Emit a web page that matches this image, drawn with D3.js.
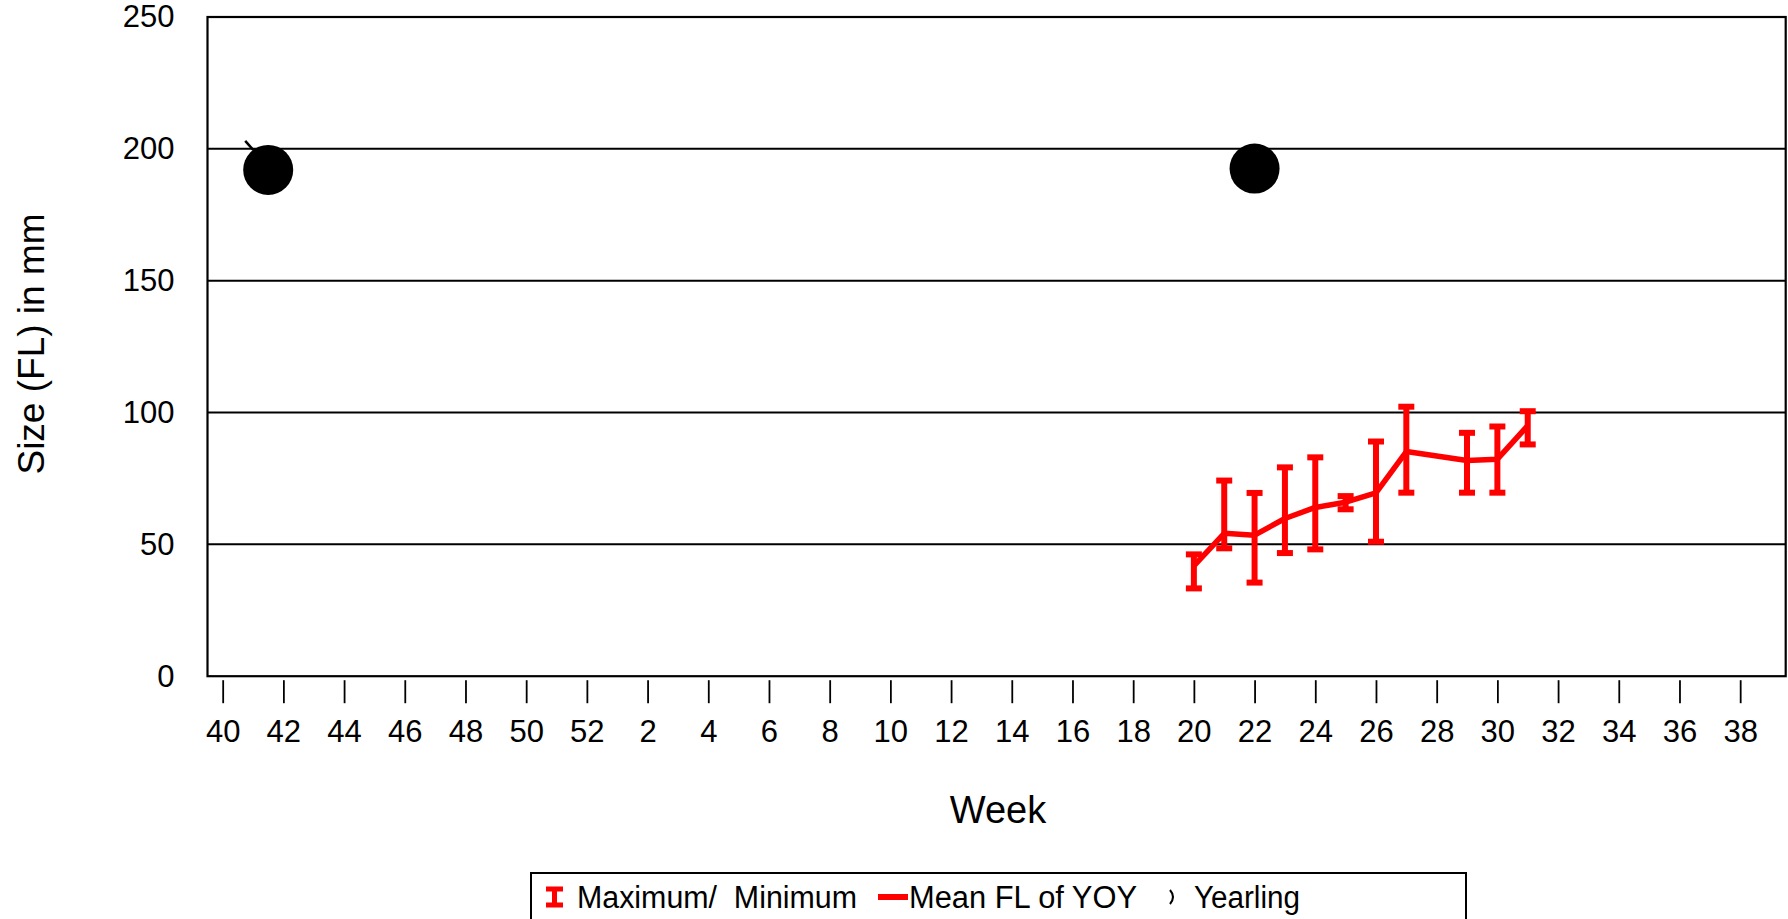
<!DOCTYPE html>
<html>
<head>
<meta charset="utf-8">
<script src="https://cdn.jsdelivr.net/npm/d3@7"></script>
<style>
  html, body { margin: 0; padding: 0; background: #fff; }
  svg { display: block; font-family: "Liberation Sans", Arial, sans-serif; }
</style>
</head>
<body>
<svg id="chart" width="1788" height="919"></svg>
<script>
// Week of year along the season (40..52, then 1..39 of the next year)
const seasonWeeks = [40,41,42,43,44,45,46,47,48,49,50,51,52,1,2,3,4,5,6,7,8,9,10,11,12,13,14,15,16,17,18,19,20,21,22,23,24,25,26,27,28,29,30,31,32,33,34,35,36,37,38,39];
const xTickLabels = [40,42,44,46,48,50,52,2,4,6,8,10,12,14,16,18,20,22,24,26,28,30,32,34,36,38];
const yTickValues = [0,50,100,150,200,250];

// Young-of-year: mean fork length with maximum / minimum per week
const yoyWeeks = [20,21,22,23,24,25,26,27,29,30,31];
const yoyMean  = [41.8,54.2,53.5,59.8,64,66,69.5,85.2,81.8,82.3,95];
const yoyMax   = [46.2,74.2,69.5,79.2,83,68.3,89,102.2,92.3,94.7,100.5];
const yoyMin   = [33.3,48.5,35.5,46.7,48.1,63.3,51,69.6,69.6,69.6,87.9];

// Yearlings caught
const yearlingWeeks = [41.5,22];
const yearlingSize  = [192,192.5];

const svg = d3.select("#chart");
const box = {left: 207.5, right: 1785.7, top: 17, bottom: 676.2};

// season position of a week (fractional weeks allowed)
const weekPos = w => (w >= 40 ? w - 40 : w + 12);

const x = d3.scaleLinear().domain([-0.5, seasonWeeks.length - 0.5]).range([box.left, box.right]);
const y = d3.scaleLinear().domain([0, 250]).range([box.bottom, box.top]);

// horizontal gridlines
svg.append("g").selectAll("line")
  .data(yTickValues.filter(v => v > 0 && v < 250))
  .join("line")
  .attr("x1", box.left).attr("x2", box.right)
  .attr("y1", d => y(d)).attr("y2", d => y(d))
  .attr("stroke", "#000").attr("stroke-width", 2);

// plot frame
svg.append("rect")
  .attr("x", box.left).attr("y", box.top)
  .attr("width", box.right - box.left).attr("height", box.bottom - box.top)
  .attr("fill", "none").attr("stroke", "#000").attr("stroke-width", 2.2);

// y axis
const yAxis = svg.append("g")
  .attr("transform", `translate(${box.left},0)`)
  .call(d3.axisLeft(y).tickValues(yTickValues).tickSize(0).tickPadding(33));
yAxis.select(".domain").remove();
yAxis.selectAll("text").attr("font-size", 31).attr("fill", "#000")
  .attr("font-family", "Liberation Sans, Arial, sans-serif");

// x axis
const xTickIdx = xTickLabels.map(weekPos);
const xAxis = svg.append("g")
  .attr("transform", `translate(0,${box.bottom + 4})`)
  .call(d3.axisBottom(x).tickValues(xTickIdx)
        .tickFormat((d, i) => xTickLabels[i]).tickSize(23).tickPadding(16));
xAxis.select(".domain").remove();
xAxis.selectAll("line").attr("stroke", "#000").attr("stroke-width", 1.8);
xAxis.selectAll("text").attr("font-size", 32).attr("fill", "#000")
  .attr("font-family", "Liberation Sans, Arial, sans-serif")
  .attr("transform", function() { return "scale(0.97,1)"; })
  .attr("x", function(d) { return 0; });

// axis titles
svg.append("text")
  .attr("x", 998).attr("y", 823)
  .attr("text-anchor", "middle").attr("font-size", 38)
  .text("Week");
svg.append("text")
  .attr("transform", "translate(44,344) rotate(-90)")
  .attr("text-anchor", "middle").attr("font-size", 37)
  .text("Size (FL) in mm");

// yoy records
const yoy = yoyWeeks.map((w, i) => ({w, mean: yoyMean[i], max: yoyMax[i], min: yoyMin[i]}));
const red = "#ff0000";

const bars = svg.append("g").selectAll("g").data(yoy).join("g");
bars.append("line")
  .attr("x1", d => x(weekPos(d.w))).attr("x2", d => x(weekPos(d.w)))
  .attr("y1", d => y(d.max)).attr("y2", d => y(d.min))
  .attr("stroke", red).attr("stroke-width", 6);
["max", "min"].forEach(k => {
  bars.append("line")
    .attr("x1", d => x(weekPos(d.w)) - 8).attr("x2", d => x(weekPos(d.w)) + 8)
    .attr("y1", d => y(d[k])).attr("y2", d => y(d[k]))
    .attr("stroke", red).attr("stroke-width", 6);
});

svg.append("path")
  .datum(yoy)
  .attr("d", d3.line().x(d => x(weekPos(d.w))).y(d => y(d.mean)))
  .attr("fill", "none").attr("stroke", red).attr("stroke-width", 5.5)
  .attr("stroke-linejoin", "round");

// yearling markers
const yearlings = yearlingWeeks.map((w, i) => ({w, v: yearlingSize[i]}));
const dots = svg.append("g").selectAll("g").data(yearlings).join("g")
  .attr("transform", d => `translate(${x(weekPos(d.w))},${y(d.v)})`);
dots.append("circle").attr("r", 25).attr("fill", "#000");
dots.filter((d, i) => i === 0).append("path")
  .attr("d", "M-23,-29 L-15,-20")
  .attr("stroke", "#000").attr("stroke-width", 2.5).attr("fill", "none");

// legend
const lg = svg.append("g");
lg.append("rect")
  .attr("x", 531).attr("y", 873).attr("width", 935).attr("height", 70)
  .attr("fill", "#fff").attr("stroke", "#000").attr("stroke-width", 2);
// error bar swatch
lg.append("path")
  .attr("d", "M546,889 H563 M554.5,889 V905 M546,905 H563")
  .attr("stroke", red).attr("stroke-width", 5).attr("fill", "none");
lg.append("text").attr("x", 577).attr("y", 908).attr("font-size", 31)
  .attr("textLength", 280).attr("lengthAdjust", "spacingAndGlyphs")
  .attr("xml:space", "preserve").text("Maximum/  Minimum");
// mean line swatch
lg.append("line").attr("x1", 878).attr("x2", 908).attr("y1", 897).attr("y2", 897)
  .attr("stroke", red).attr("stroke-width", 6);
lg.append("text").attr("x", 909).attr("y", 908).attr("font-size", 31)
  .attr("textLength", 228).attr("lengthAdjust", "spacingAndGlyphs")
  .text("Mean FL of YOY");
// yearling swatch
lg.append("path")
  .attr("d", "M1170,890 Q1176,897 1170,904")
  .attr("stroke", "#000").attr("stroke-width", 2).attr("fill", "none");
lg.append("text").attr("x", 1194).attr("y", 908).attr("font-size", 31)
  .attr("textLength", 106).attr("lengthAdjust", "spacingAndGlyphs")
  .text("Yearling");
</script>
</body>
</html>
